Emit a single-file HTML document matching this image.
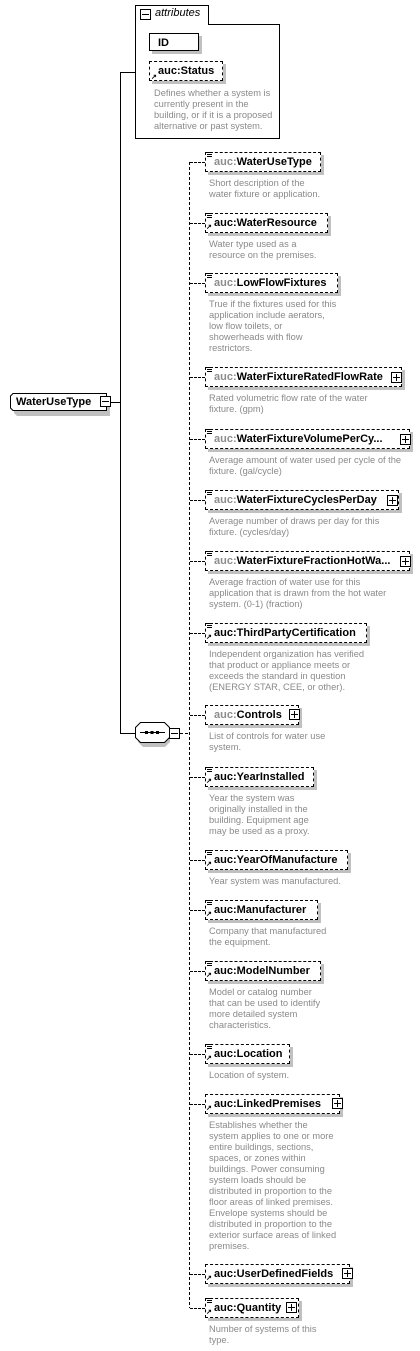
<!DOCTYPE html>
<html><head><meta charset="utf-8"><style>
body{margin:0;width:420px;height:1351px;background:#fff;position:relative;overflow:hidden;font-family:"Liberation Sans",sans-serif}
.a{position:absolute}
.box{position:absolute;height:18px;border:1px dashed #000;background:#fff;box-shadow:3px 3px 0 #c0c0c0;font-weight:bold;font-size:11px;line-height:18px;padding-left:8px;box-sizing:content-box;white-space:nowrap;color:#000}
.g{color:#8c8c8c}
.desc{position:absolute;left:209px;font-size:9.3px;line-height:11px;color:#8a8a8a;white-space:nowrap}
.plus{position:absolute;width:9px;height:9px;border:1px solid #000;background:#fff}
.plus:before{content:"";position:absolute;left:1px;top:4px;width:7px;height:1px;background:#000}
.plus:after{content:"";position:absolute;left:4px;top:1px;width:1px;height:7px;background:#000}
.minus{position:absolute;width:9px;height:9px;border:1px solid #000;background:#fff}
.minus:before{content:"";position:absolute;left:1px;top:4px;width:7px;height:1px;background:#000}
.hd{position:absolute;height:0;border-top:1px dashed #000}
.ls{position:absolute;width:5px;height:5px;border-top:1px solid #000;border-bottom:1px solid #000;box-sizing:border-box}
.ls:after{content:"";position:absolute;left:0;top:1px;width:5px;height:1px;background:#000}
.ar{position:absolute;font-size:7px;line-height:7px;font-weight:bold}
</style></head><body>

<div class="a" style="left:135px;top:24px;width:143px;height:113px;border:1px solid #000"></div>
<div class="a" style="left:135px;top:5px;width:72px;height:19px;border:1px solid #000;border-bottom:none;background:#fff"></div>
<div class="minus" style="left:140px;top:9px"></div>
<div class="a" style="left:155px;top:7px;font-size:11px;font-style:italic">attributes</div>
<div class="a" style="left:149px;top:33px;width:50px;height:18px;border:1px solid #000;box-shadow:3px 3px 0 #c0c0c0;font-weight:bold;font-size:11px;line-height:18px;padding-left:8px;box-sizing:border-box">ID</div>
<div class="box" style="left:149px;top:61px;width:64px">auc:Status</div>
<div class="ar" style="left:151px;top:74px">↗</div>
<div class="desc" style="left:154px;top:88px">Defines whether a system is<br>currently present in the<br>building, or if it is a proposed<br>alternative or past system.</div>

<svg class="a" style="left:0;top:0" width="420" height="1351">
<path d="M120.5 72 V733 M120 72.5 H135 M111 402.5 H120 M120 733.5 H135" stroke="#000" fill="none"/>
<path d="M14 396 L107 396 L107 413 L14 413 L11 410 L11 399 Z" fill="#c0c0c0" transform="translate(3,3)"/>
<path d="M13 393.5 L106.5 393.5 L106.5 410.5 L13 410.5 L10.5 408 L10.5 396 Z" fill="#fff" stroke="#000"/>
<path d="M141 725 L163 725 L168 730 L168 740 L163 745 L141 745 L136 740 L136 730 Z" fill="#c0c0c0" transform="translate(2,2)"/>
<path d="M140.5 722.5 L164.5 722.5 L169.5 727.5 L169.5 737.5 L164.5 742.5 L140.5 742.5 L135.5 737.5 L135.5 727.5 Z" fill="#fff" stroke="#000"/>
<path d="M140 732.5 H165" stroke="#000"/>
<rect x="145" y="731" width="3" height="3" fill="#000"/><rect x="150.5" y="731" width="3" height="3" fill="#000"/><rect x="156" y="731" width="3" height="3" fill="#000"/>
<path d="M189.5 162 V1308" stroke="#000" stroke-dasharray="3,2"/>
<path d="M180 733.5 H189" stroke="#000" stroke-dasharray="3,2"/>
</svg>
<div class="a" style="left:16px;top:394px;font-weight:bold;font-size:11px;line-height:16px">WaterUseType</div>
<div class="minus" style="left:100px;top:396px"></div>
<div class="minus" style="left:169px;top:728px"></div>

<div class="hd" style="left:190px;top:162px;width:15px"></div>
<div class="box" style="left:205px;top:152px;width:106px"><span class="g">auc:</span>WaterUseType</div>
<div class="ls" style="left:207px;top:152px"></div>
<div class="desc" style="top:178px">Short description of the<br>water fixture or application.</div>

<div class="hd" style="left:190px;top:223px;width:15px"></div>
<div class="box" style="left:205px;top:213px;width:113px">auc:WaterResource</div>
<div class="ls" style="left:207px;top:213px"></div><div class="ar" style="left:206px;top:224px">↗</div>
<div class="desc" style="top:239px">Water type used as a<br>resource on the premises.</div>

<div class="hd" style="left:190px;top:283px;width:15px"></div>
<div class="box" style="left:205px;top:273px;width:123px"><span class="g">auc:</span>LowFlowFixtures</div>
<div class="ls" style="left:207px;top:273px"></div>
<div class="desc" style="top:299px">True if the fixtures used for this<br>application include aerators,<br>low flow toilets, or<br>showerheads with flow<br>restrictors.</div>

<div class="hd" style="left:190px;top:377px;width:15px"></div>
<div class="box" style="left:205px;top:367px;width:187px"><span class="g">auc:</span>WaterFixtureRatedFlowRate</div>
<div class="ls" style="left:207px;top:367px"></div><div class="plus" style="left:391px;top:372px"></div>
<div class="desc" style="top:393px">Rated volumetric flow rate of the water<br>fixture. (gpm)</div>

<div class="hd" style="left:190px;top:439px;width:15px"></div>
<div class="box" style="left:205px;top:429px;width:195px"><span class="g">auc:</span>WaterFixtureVolumePerCy...</div>
<div class="ls" style="left:207px;top:429px"></div><div class="plus" style="left:400px;top:434px"></div>
<div class="desc" style="top:455px">Average amount of water used per cycle of the<br>fixture. (gal/cycle)</div>

<div class="hd" style="left:190px;top:500px;width:15px"></div>
<div class="box" style="left:205px;top:490px;width:184px"><span class="g">auc:</span>WaterFixtureCyclesPerDay</div>
<div class="ls" style="left:207px;top:490px"></div><div class="plus" style="left:387px;top:495px"></div>
<div class="desc" style="top:516px">Average number of draws per day for this<br>fixture. (cycles/day)</div>

<div class="hd" style="left:190px;top:561px;width:15px"></div>
<div class="box" style="left:205px;top:551px;width:195px"><span class="g">auc:</span>WaterFixtureFractionHotWa...</div>
<div class="ls" style="left:207px;top:551px"></div><div class="plus" style="left:400px;top:556px"></div>
<div class="desc" style="top:577px">Average fraction of water use for this<br>application that is drawn from the hot water<br>system. (0-1) (fraction)</div>

<div class="hd" style="left:190px;top:633px;width:15px"></div>
<div class="box" style="left:205px;top:623px;width:152px">auc:ThirdPartyCertification</div>
<div class="ls" style="left:207px;top:623px"></div><div class="ar" style="left:206px;top:634px">↗</div>
<div class="desc" style="top:649px">Independent organization has verified<br>that product or appliance meets or<br>exceeds the standard in question<br>(ENERGY STAR, CEE, or other).</div>

<div class="hd" style="left:190px;top:715px;width:15px"></div>
<div class="box" style="left:205px;top:705px;width:84px"><span class="g">auc:</span>Controls</div>
<div class="plus" style="left:289px;top:709px"></div>
<div class="desc" style="top:731px">List of controls for water use<br>system.</div>

<div class="hd" style="left:190px;top:777px;width:15px"></div>
<div class="box" style="left:205px;top:767px;width:99px">auc:YearInstalled</div>
<div class="ls" style="left:207px;top:767px"></div><div class="ar" style="left:206px;top:778px">↗</div>
<div class="desc" style="top:793px">Year the system was<br>originally installed in the<br>building. Equipment age<br>may be used as a proxy.</div>

<div class="hd" style="left:190px;top:860px;width:15px"></div>
<div class="box" style="left:205px;top:850px;width:133px">auc:YearOfManufacture</div>
<div class="ls" style="left:207px;top:850px"></div><div class="ar" style="left:206px;top:861px">↗</div>
<div class="desc" style="top:876px">Year system was manufactured.</div>

<div class="hd" style="left:190px;top:910px;width:15px"></div>
<div class="box" style="left:205px;top:900px;width:103px">auc:Manufacturer</div>
<div class="ls" style="left:207px;top:900px"></div><div class="ar" style="left:206px;top:911px">↗</div>
<div class="desc" style="top:926px">Company that manufactured<br>the equipment.</div>

<div class="hd" style="left:190px;top:971px;width:15px"></div>
<div class="box" style="left:205px;top:961px;width:106px">auc:ModelNumber</div>
<div class="ls" style="left:207px;top:961px"></div><div class="ar" style="left:206px;top:972px">↗</div>
<div class="desc" style="top:987px">Model or catalog number<br>that can be used to identify<br>more detailed system<br>characteristics.</div>

<div class="hd" style="left:190px;top:1054px;width:15px"></div>
<div class="box" style="left:205px;top:1044px;width:75px">auc:Location</div>
<div class="ls" style="left:207px;top:1044px"></div><div class="ar" style="left:206px;top:1055px">↗</div>
<div class="desc" style="top:1070px">Location of system.</div>

<div class="hd" style="left:190px;top:1104px;width:15px"></div>
<div class="box" style="left:205px;top:1094px;width:125px">auc:LinkedPremises</div>
<div class="ar" style="left:206px;top:1105px">↗</div><div class="plus" style="left:332px;top:1098px"></div>
<div class="desc" style="top:1120px">Establishes whether the<br>system applies to one or more<br>entire buildings, sections,<br>spaces, or zones within<br>buildings. Power consuming<br>system loads should be<br>distributed in proportion to the<br>floor areas of linked premises.<br>Envelope systems should be<br>distributed in proportion to the<br>exterior surface areas of linked<br>premises.</div>

<div class="hd" style="left:190px;top:1274px;width:15px"></div>
<div class="box" style="left:205px;top:1264px;width:135px">auc:UserDefinedFields</div>
<div class="ar" style="left:206px;top:1275px">↗</div><div class="plus" style="left:342px;top:1268px"></div>

<div class="hd" style="left:190px;top:1308px;width:15px"></div>
<div class="box" style="left:205px;top:1298px;width:84px">auc:Quantity</div>
<div class="ls" style="left:207px;top:1298px"></div><div class="ar" style="left:206px;top:1309px">↗</div><div class="plus" style="left:286px;top:1302px"></div>
<div class="desc" style="top:1324px">Number of systems of this<br>type.</div>

</body></html>
